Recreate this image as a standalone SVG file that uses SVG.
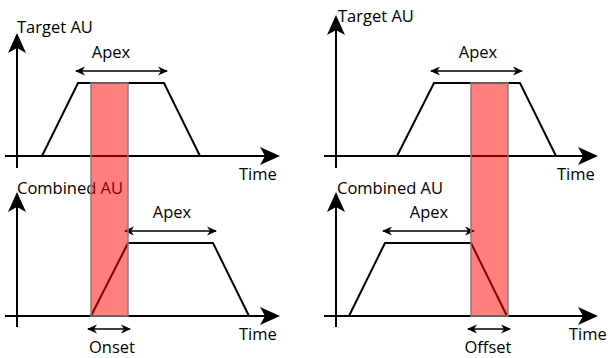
<svg xmlns="http://www.w3.org/2000/svg" width="608" height="358" viewBox="0 0 608 358">
<style>
  text { font-family: "Open Sans", "Liberation Sans", sans-serif; font-size: 16.5px; fill: #000; }
  .ax { stroke: #000; stroke-width: 2; fill: none; }
  .curve { stroke: #000; stroke-width: 2; fill: none; stroke-linejoin: miter; }
  .dim { stroke: #000; stroke-width: 1.5; fill: none; }
  .band { fill: #ff0000; fill-opacity: 0.5; stroke: #808080; stroke-width: 1.5; }
</style>
<defs>
  <marker id="big" markerUnits="userSpaceOnUse" markerWidth="22" markerHeight="20" refX="18" refY="9" orient="auto">
    <path d="M0,0 L20,9 L0,18 L5,9 Z" fill="#000"/>
  </marker>
  <marker id="small" markerUnits="userSpaceOnUse" markerWidth="12" markerHeight="10" refX="9" refY="5" orient="auto-start-reverse">
    <path d="M0,0.5 L10,5 L0,9.5 L3,5 Z" fill="#000"/>
  </marker>
</defs>
<g id="panel-target-left">
  <text x="17" y="33">Target AU</text>
  <text x="111" y="58" text-anchor="middle">Apex</text>
  <text x="239" y="180">Time</text>
  <path class="curve" d="M42,156 L78,83 L164,83 L200,156"/>
</g>
<g id="panel-combined-left">
  <text x="17" y="194">Combined AU</text>
  <text x="172" y="218" text-anchor="middle">Apex</text>
  <text x="239" y="340">Time</text>
  <text x="112" y="353" text-anchor="middle">Onset</text>
  <path class="curve" d="M91,316 L128,243 L213,243 L249,316"/>
</g>
<g id="panel-target-right">
  <text x="338" y="22">Target AU</text>
  <text x="478" y="58" text-anchor="middle">Apex</text>
  <text x="557" y="180">Time</text>
  <path class="curve" d="M397,156 L434,83 L520,83 L556,156"/>
</g>
<g id="panel-combined-right">
  <text x="337" y="194">Combined AU</text>
  <text x="429" y="218" text-anchor="middle">Apex</text>
  <text x="569" y="340">Time</text>
  <text x="488" y="353" text-anchor="middle">Offset</text>
  <path class="curve" d="M349,316 L385,243 L471,243 L507,316"/>
</g>
<g id="connectors">
  <line class="ax" x1="17" y1="168" x2="17" y2="35" marker-end="url(#big)"/>
  <line class="ax" x1="5" y1="156" x2="278" y2="156" marker-end="url(#big)"/>
  <line class="ax" x1="17" y1="327" x2="17" y2="194" marker-end="url(#big)"/>
  <line class="ax" x1="5" y1="316" x2="278" y2="316" marker-end="url(#big)"/>
  <line class="ax" x1="336" y1="168" x2="336" y2="17" marker-end="url(#big)"/>
  <line class="ax" x1="324" y1="156" x2="596" y2="156" marker-end="url(#big)"/>
  <line class="ax" x1="336" y1="327" x2="336" y2="194" marker-end="url(#big)"/>
  <line class="ax" x1="324" y1="316" x2="596" y2="316" marker-end="url(#big)"/>
  <line class="dim" x1="76" y1="71" x2="167" y2="71" marker-start="url(#small)" marker-end="url(#small)"/>
  <line class="dim" x1="125" y1="231" x2="216" y2="231" marker-start="url(#small)" marker-end="url(#small)"/>
  <line class="dim" x1="88" y1="329" x2="130" y2="329" marker-start="url(#small)" marker-end="url(#small)"/>
  <line class="dim" x1="431" y1="71" x2="522" y2="71" marker-start="url(#small)" marker-end="url(#small)"/>
  <line class="dim" x1="383" y1="231" x2="474" y2="231" marker-start="url(#small)" marker-end="url(#small)"/>
  <line class="dim" x1="468" y1="329" x2="510" y2="329" marker-start="url(#small)" marker-end="url(#small)"/>
</g>
<g id="bands">
  <rect class="band" x="91" y="83" width="37" height="233"/>
  <rect class="band" x="471" y="83" width="37" height="233"/>
</g>
</svg>
